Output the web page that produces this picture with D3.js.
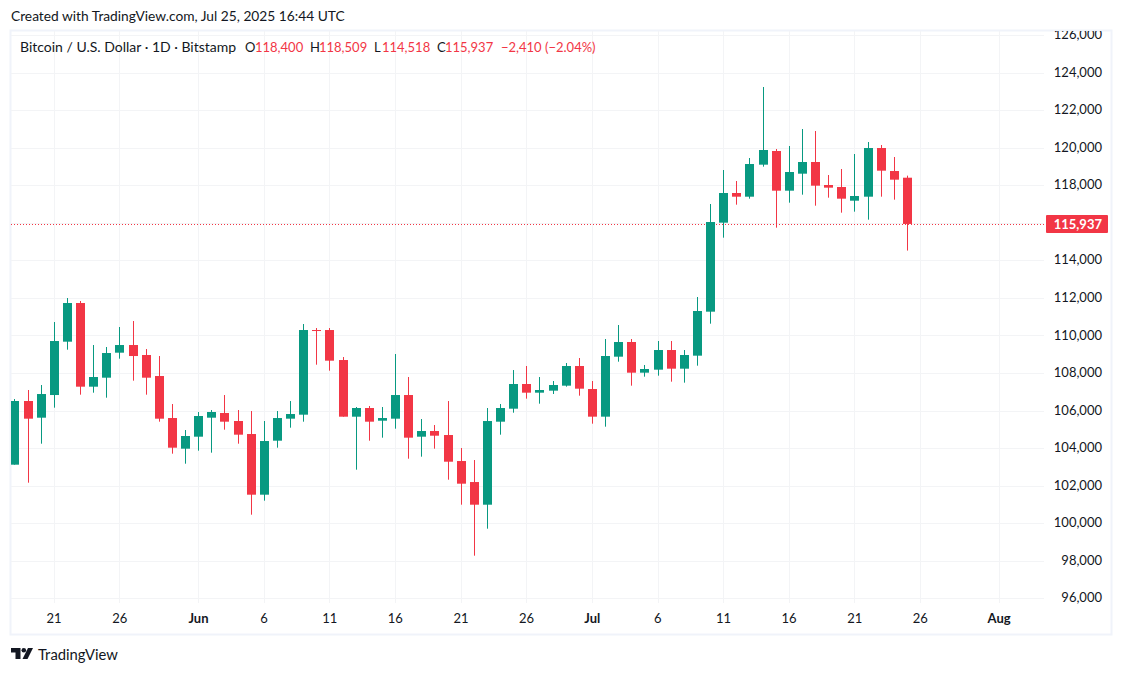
<!DOCTYPE html>
<html>
<head>
<meta charset="utf-8">
<title>Bitcoin / U.S. Dollar</title>
<script src="https://cdn.jsdelivr.net/npm/d3@7"></script>
<style>
html, body { margin: 0; padding: 0; background: #fff; }
svg { display: block; }
text { font-family: "Lato", "Noto Sans", sans-serif; fill: #131722; }
</style>
</head>
<body>
<svg id="plot"></svg>
<script>
var width = 1123;
var height = 674;

// one candle per day, May 18 to Jul 25 2025
var firstDay = "2025-05-18";
var opens = [103116,106507,105619,106826,109667,111726,107270,107749,109081,109489,108957,107838,105601,103968,104607,105619,105868,105442,104749,101518,
    104394,105566,105779,110288,110288,108690,105672,106134,105459,105566,106826,104607,104909,104696,103311,102192,100985,105406,106098,107413,
    106951,107058,107324,108371,107146,105673,108868,109650,108016,108176,109223,108229,108922,111265,116005,117585,117389,119094,119822,117709,
    118614,119236,118011,117904,117176,117389,119981,118756,118400];
var highs = [106613,107093,107359,110714,111992,111833,109489,109383,110448,110767,109276,108903,106347,104962,105921,106027,106826,106027,105974,105442,
    105974,106506,110607,110394,110394,108850,106187,106240,106187,109010,107785,105548,105228,106506,104003,103364,106134,106347,108157,108371,
    107785,107572,108531,108797,107572,109809,110555,109809,108425,109703,109703,109223,112046,116999,118810,118224,119449,123230,119928,120088,
    120993,120887,118543,118863,119662,120301,120141,119502,118509];
var lows = [103116,102157,104234,106152,109241,106844,106950,106684,108761,107590,106844,105406,103702,103169,103862,103755,104980,104234,100453,101199,
    104021,105086,105406,108441,108122,105672,102849,104394,104554,105033,103435,103542,103968,102317,100985,98269,99707,104714,105885,106632,
    106365,106880,107271,106791,105300,105140,108602,107324,107803,107856,107537,107484,108389,110626,115206,116963,117283,118987,115738,117070,
    117496,116910,117336,116537,116591,116165,117389,117230,114518];
var closes = [106507,105566,106879,109702,111726,107270,107785,109063,109489,108903,107749,105566,104021,104643,105708,105921,105406,104714,101518,104376,
    105601,105814,110288,110252,108655,105672,106134,105406,105601,106826,104554,104909,104660,103275,102104,100985,105441,106134,107412,106951,
    107093,107359,108371,107164,105673,108904,109650,108016,108212,109223,108229,108957,111301,116040,117585,117389,119129,119875,117709,118703,
    119236,117975,117869,117283,117425,119981,118774,118295,115937];

var priceTicks = [96000,98000,100000,102000,104000,106000,108000,110000,112000,114000,116000,118000,120000,122000,124000,126000];
var timeTicks = ["2025-05-21","2025-05-26","2025-06-01","2025-06-06","2025-06-11","2025-06-16","2025-06-21","2025-06-26",
    "2025-07-01","2025-07-06","2025-07-11","2025-07-16","2025-07-21","2025-07-26","2025-08-01"];

var lastClose = 115937;
var legendTitle = "Bitcoin / U.S. Dollar · 1D · Bitstamp";
var legendItems = [
    {key: "O", val: "118,400", kx: 245, vx: 255},
    {key: "H", val: "118,509", kx: 310, vx: 319},
    {key: "L", val: "114,518", kx: 374, vx: 382},
    {key: "C", val: "115,937", kx: 437, vx: 445}
];
var legendChange = "−2,410 (−2.04%)";

var up = "#089981";
var down = "#f23645";
var gridColor = "#f3f4f6";
var frameColor = "#f0f3fa";

var pane = {left: 11, right: 1044, top: 31, bottom: 603};

function utc(s) { return new Date(s + "T00:00:00Z"); }

var days = opens.map(function (d, i) { return d3.utcDay.offset(utc(firstDay), i); });

var xScale = d3.scaleUtc()
    .domain([utc("2025-05-21"), utc("2025-08-01")])
    .range([54.3, 999.3]);
var yScale = d3.scaleLinear()
    .domain([96000, 126000])
    .range([598.3, 35]);

var svg = d3.select("#plot")
    .attr("width", width)
    .attr("height", height)
    .attr("viewBox", "0 0 " + width + " " + height);

var defs = svg.append("defs");
defs.append("clipPath").attr("id", "pane-clip").append("rect")
    .attr("x", pane.left).attr("y", pane.top)
    .attr("width", pane.right - pane.left).attr("height", pane.bottom - pane.top);
defs.append("clipPath").attr("id", "axis-clip").append("rect")
    .attr("x", pane.right).attr("y", pane.top)
    .attr("width", 1111 - pane.right).attr("height", pane.bottom - pane.top + 10);

svg.append("text")
    .attr("x", 11).attr("y", 21)
    .attr("font-size", 13.75)
    .text("Created with TradingView.com, Jul 25, 2025 16:44 UTC");

// outer frame
svg.append("rect")
    .attr("x", 10.5).attr("y", 30.5)
    .attr("width", 1101).attr("height", 604)
    .attr("fill", "none")
    .attr("stroke", frameColor)
    .attr("stroke-width", 2);

// grid
var grid = svg.append("g").attr("id", "grid").attr("clip-path", "url(#pane-clip)");
grid.selectAll(".h").data(priceTicks).enter().append("line")
    .attr("class", "h")
    .attr("x1", pane.left).attr("x2", pane.right)
    .attr("y1", function (d) { return Math.round(yScale(d)) + 0.5; })
    .attr("y2", function (d) { return Math.round(yScale(d)) + 0.5; })
    .attr("stroke", gridColor);
grid.selectAll(".v").data(timeTicks).enter().append("line")
    .attr("class", "v")
    .attr("x1", function (d) { return Math.floor(xScale(utc(d))) + 0.5; })
    .attr("x2", function (d) { return Math.floor(xScale(utc(d))) + 0.5; })
    .attr("y1", pane.top).attr("y2", pane.bottom)
    .attr("stroke", gridColor);

// last price line
svg.append("line")
    .attr("x1", pane.left).attr("x2", pane.right)
    .attr("y1", Math.round(yScale(lastClose)) + 0.5)
    .attr("y2", Math.round(yScale(lastClose)) + 0.5)
    .attr("stroke", down)
    .attr("stroke-dasharray", "1 2");

// candles
var candles = svg.append("g").attr("id", "candles").attr("clip-path", "url(#pane-clip)")
    .selectAll("g")
    .data(days)
    .enter()
    .append("g")
    .attr("transform", function (d) { return "translate(" + (Math.floor(xScale(d)) + 0.5) + ",0)"; })
    .attr("fill", function (d, i) { return closes[i] >= opens[i] ? up : down; })
    .attr("stroke", function (d, i) { return closes[i] >= opens[i] ? up : down; });

candles.append("line")
    .attr("y1", function (d, i) { return yScale(highs[i]); })
    .attr("y2", function (d, i) { return yScale(lows[i]); });

candles.append("rect")
    .attr("x", -4.5)
    .attr("width", 9)
    .attr("stroke", "none")
    .attr("y", function (d, i) { return yScale(Math.max(opens[i], closes[i])); })
    .attr("height", function (d, i) {
        return Math.max(1, Math.abs(yScale(opens[i]) - yScale(closes[i])));
    });

// axes, the clip sits on an outer group so the top label is cut at the frame
var yAxis = svg.append("g")
    .attr("clip-path", "url(#axis-clip)")
    .append("g")
    .attr("id", "y-axis")
    .attr("transform", "translate(1102,-0.5)")
    .call(d3.axisLeft(yScale).tickValues(priceTicks).tickSize(0).tickPadding(0).tickFormat(d3.format(",")));
yAxis.select(".domain").remove();
yAxis.attr("font-family", null).attr("font-size", null);
yAxis.selectAll("text").attr("font-size", 13);

var xAxis = svg.append("g")
    .attr("id", "x-axis")
    .attr("transform", "translate(-0.7,614)")
    .call(d3.axisBottom(xScale)
        .tickValues(timeTicks.map(utc))
        .tickSize(0)
        .tickPadding(0)
        .tickFormat(function (d) {
            if (d.getUTCDate() == 1) return d3.utcFormat("%b")(d);
            return d.getUTCDate();
        }));
xAxis.select(".domain").remove();
xAxis.attr("font-family", null).attr("font-size", null);
xAxis.selectAll("text")
    .attr("font-size", 13)
    .attr("font-weight", function (d) { return d.getUTCDate() == 1 ? 700 : 400; });

// last price tag
svg.append("rect")
    .attr("x", 1046).attr("y", 215)
    .attr("width", 62).attr("height", 18)
    .attr("rx", 1)
    .attr("fill", down);
svg.append("text")
    .attr("x", 1102).attr("y", 228.5)
    .attr("text-anchor", "end")
    .attr("font-size", 13)
    .attr("font-weight", 700)
    .style("fill", "#fff")
    .text(d3.format(",")(lastClose));

// legend
var legend = svg.append("g").attr("id", "legend").attr("font-size", 13);
legend.append("text").attr("x", 20).attr("y", 52).attr("font-size", 14).text(legendTitle);
legend.selectAll(".key").data(legendItems).enter().append("text")
    .attr("class", "key")
    .attr("x", function (d) { return d.kx; })
    .attr("y", 52)
    .text(function (d) { return d.key; });
legend.selectAll(".val").data(legendItems).enter().append("text")
    .attr("class", "val")
    .attr("x", function (d) { return d.vx; })
    .attr("y", 52)
    .style("fill", down)
    .text(function (d) { return d.val; });
legend.append("text").attr("x", 501).attr("y", 52).style("fill", down).text(legendChange);

// logo
var logo = svg.append("g").attr("id", "logo").attr("transform", "translate(11,648)");
logo.append("path").attr("fill", "#131722").attr("d", "M0 0H9.5V11H4.5V4.5H0Z");
logo.append("circle").attr("fill", "#131722").attr("cx", 12.8).attr("cy", 2.3).attr("r", 2.3);
logo.append("path").attr("fill", "#131722").attr("d", "M17 0H22L16.5 11H11.5Z");
svg.append("text")
    .attr("x", 38).attr("y", 660)
    .attr("font-size", 14.8)
    .text("TradingView");
</script>
</body>
</html>
